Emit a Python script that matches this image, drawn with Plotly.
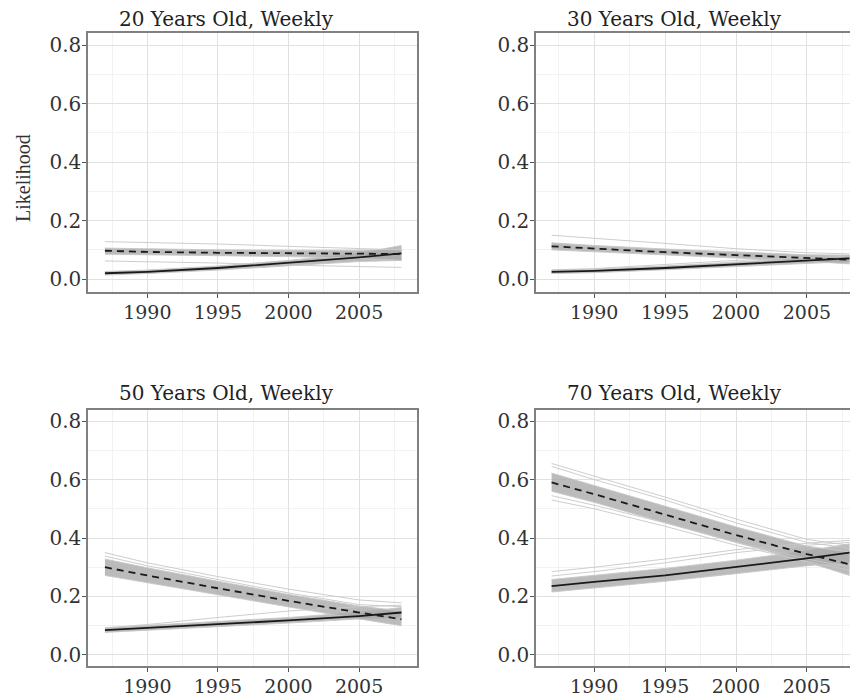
import plotly.graph_objects as go

# ---------------- data ----------------
years = [1987, 1990, 1995, 2000, 2005, 2008]

panel_titles = ["20 Years Old, Weekly", "30 Years Old, Weekly",
                "50 Years Old, Weekly", "70 Years Old, Weekly"]

# main (solid) and dashed estimate lines
solid_20 = [0.020, 0.025, 0.038, 0.055, 0.074, 0.088]
dashed_20 = [0.097, 0.093, 0.090, 0.088, 0.086, 0.086]
solid_30 = [0.025, 0.028, 0.038, 0.050, 0.063, 0.071]
dashed_30 = [0.112, 0.104, 0.092, 0.082, 0.072, 0.066]
solid_50 = [0.085, 0.092, 0.105, 0.118, 0.133, 0.145]
dashed_50 = [0.300, 0.272, 0.228, 0.185, 0.145, 0.122]
solid_70 = [0.235, 0.250, 0.272, 0.300, 0.330, 0.350]
dashed_70 = [0.590, 0.550, 0.480, 0.410, 0.345, 0.310]

# grey simulation envelopes (lower / upper)
solid_20_lo = [0.014, 0.019, 0.031, 0.046, 0.060, 0.064]
solid_20_hi = [0.026, 0.031, 0.045, 0.064, 0.088, 0.115]
dashed_20_lo = [0.085, 0.083, 0.080, 0.077, 0.071, 0.064]
dashed_20_hi = [0.106, 0.103, 0.100, 0.099, 0.099, 0.102]
solid_30_lo = [0.019, 0.022, 0.032, 0.043, 0.055, 0.060]
solid_30_hi = [0.031, 0.034, 0.045, 0.058, 0.071, 0.080]
dashed_30_lo = [0.100, 0.093, 0.082, 0.072, 0.061, 0.052]
dashed_30_hi = [0.124, 0.115, 0.103, 0.093, 0.083, 0.082]
solid_50_lo = [0.077, 0.084, 0.097, 0.109, 0.123, 0.130]
solid_50_hi = [0.093, 0.101, 0.114, 0.128, 0.146, 0.162]
dashed_50_lo = [0.272, 0.247, 0.204, 0.163, 0.123, 0.100]
dashed_50_hi = [0.328, 0.298, 0.252, 0.207, 0.167, 0.150]
solid_70_lo = [0.215, 0.229, 0.252, 0.278, 0.305, 0.318]
solid_70_hi = [0.258, 0.272, 0.296, 0.324, 0.356, 0.380]
dashed_70_lo = [0.560, 0.522, 0.452, 0.385, 0.318, 0.272]
dashed_70_hi = [0.622, 0.580, 0.510, 0.438, 0.372, 0.352]

# individual outlying simulation draws
outliers_20 = [[0.062, 0.060, 0.055, 0.048, 0.043, 0.040],
               [0.128, 0.125, 0.120, 0.112, 0.104, 0.100]]
outliers_30 = [[0.150, 0.140, 0.122, 0.104, 0.090, 0.086],
               [0.032, 0.036, 0.050, 0.064, 0.074, 0.078]]
outliers_50 = [[0.350, 0.315, 0.268, 0.225, 0.188, 0.178],
               [0.338, 0.305, 0.258, 0.212, 0.172, 0.165],
               [0.092, 0.104, 0.128, 0.150, 0.165, 0.170]]
outliers_70 = [[0.655, 0.612, 0.540, 0.465, 0.395, 0.375],
               [0.645, 0.600, 0.530, 0.452, 0.385, 0.365],
               [0.530, 0.500, 0.440, 0.375, 0.320, 0.290],
               [0.545, 0.512, 0.452, 0.385, 0.328, 0.300],
               [0.285, 0.300, 0.328, 0.360, 0.382, 0.392],
               [0.270, 0.285, 0.315, 0.350, 0.375, 0.385]]

y_ticks = [0.0, 0.2, 0.4, 0.6, 0.8]
y_tick_labels = ["0.0", "0.2", "0.4", "0.6", "0.8"]
x_ticks = [1990, 1995, 2000, 2005]
x_tick_labels = ["1990", "1995", "2000", "2005"]

panels = [
    (solid_20, dashed_20, solid_20_lo, solid_20_hi, dashed_20_lo, dashed_20_hi, outliers_20),
    (solid_30, dashed_30, solid_30_lo, solid_30_hi, dashed_30_lo, dashed_30_hi, outliers_30),
    (solid_50, dashed_50, solid_50_lo, solid_50_hi, dashed_50_lo, dashed_50_hi, outliers_50),
    (solid_70, dashed_70, solid_70_lo, solid_70_hi, dashed_70_lo, dashed_70_hi, outliers_70),
]

# ---------------- layout geometry ----------------
# page body has an 8px margin, so the figure is sized/positioned relative to (8, 8)
OFF = 8
W, H = 858 - OFF, 700 - OFF


def px(xp):
    return (xp - OFF) / W


def py(yp):
    return 1 - (yp - OFF) / H


x_domains = [(px(88), px(417)), (px(536), 1.0)]
y_domains = [(py(292), py(33)), (py(666), py(410))]
x_ranges = [[1985.8, 2009.1], [1985.9, 2008.6]]
y_ranges = [[-0.044, 0.841], [-0.038, 0.838]]

title_pos = [(px(226), py(19)), (px(674), py(19)),
             (px(226), py(393)), (px(674), py(393))]

SERIF = "DejaVu Serif"
fig = go.Figure()

for i, (s, d, slo, shi, dlo, dhi, outs) in enumerate(panels):
    n = i + 1
    xa = "x" if n == 1 else f"x{n}"
    ya = "y" if n == 1 else f"y{n}"
    band_col = "rgba(170,170,170,0.8)"
    edge_col = "rgba(200,200,200,0.9)"
    for lo, hi in [(slo, shi), (dlo, dhi)]:
        fig.add_trace(go.Scatter(x=years, y=lo, mode="lines", xaxis=xa, yaxis=ya,
                                 line=dict(color=edge_col, width=1), showlegend=False,
                                 hoverinfo="skip"))
        fig.add_trace(go.Scatter(x=years, y=hi, mode="lines", xaxis=xa, yaxis=ya,
                                 line=dict(color=edge_col, width=1), fill="tonexty",
                                 fillcolor=band_col, showlegend=False, hoverinfo="skip"))
    for o in outs:
        fig.add_trace(go.Scatter(x=years, y=o, mode="lines", xaxis=xa, yaxis=ya,
                                 line=dict(color="rgba(200,200,200,0.9)", width=1),
                                 showlegend=False, hoverinfo="skip"))
    fig.add_trace(go.Scatter(x=years, y=s, mode="lines", xaxis=xa, yaxis=ya,
                             line=dict(color="#1a1a1a", width=1.8), showlegend=False))
    fig.add_trace(go.Scatter(x=years, y=d, mode="lines", xaxis=xa, yaxis=ya,
                             line=dict(color="#1a1a1a", width=1.8, dash="7px,5px"),
                             showlegend=False))

    col = i % 2
    row = i // 2
    xkey = "xaxis" if n == 1 else f"xaxis{n}"
    ykey = "yaxis" if n == 1 else f"yaxis{n}"
    fig.layout[xkey] = dict(
        domain=list(x_domains[col]), range=x_ranges[col], anchor=ya,
        tickvals=x_ticks, ticktext=x_tick_labels, ticks="outside", ticklen=4,
        tickcolor="#555", tickwidth=1, ticklabelstandoff=-2,
        showline=True, linecolor="#808080", linewidth=1.5, mirror=True,
        showgrid=True, gridcolor="#e0e0e0", gridwidth=1, zeroline=False,
        minor=dict(tickvals=[1987.5, 1992.5, 1997.5, 2002.5, 2007.5],
                   showgrid=True, gridcolor="#f2f2f2", gridwidth=1, ticks=""),
        tickfont=dict(family=SERIF, size=19, color="#333"), automargin=False,
        fixedrange=True)
    fig.layout[ykey] = dict(
        domain=list(y_domains[row]), range=y_ranges[row], anchor=xa,
        tickvals=y_ticks, ticktext=y_tick_labels, ticks="outside", ticklen=4,
        tickcolor="#555", tickwidth=1, ticklabelstandoff=-3,
        showline=True, linecolor="#808080", linewidth=1.5, mirror=(col == 0),
        showgrid=True, gridcolor="#e0e0e0", gridwidth=1, zeroline=False,
        minor=dict(tickvals=[0.1, 0.3, 0.5, 0.7], showgrid=True,
                   gridcolor="#f2f2f2", gridwidth=1, ticks=""),
        tickfont=dict(family=SERIF, size=20, color="#333"), automargin=False,
        fixedrange=True)

annotations = []
for (tx, ty), t in zip(title_pos, panel_titles):
    annotations.append(dict(x=tx, y=ty, xref="paper", yref="paper", text=t,
                            showarrow=False, xanchor="center", yanchor="middle",
                            font=dict(family=SERIF, size=20, color="#222")))
annotations.append(dict(x=px(23), y=py(178), xref="paper", yref="paper",
                        text="Likelihood", textangle=-90, showarrow=False,
                        xanchor="center", yanchor="middle",
                        font=dict(family="Liberation Serif", size=20, color="#333")))

fig.update_layout(width=W, height=H, margin=dict(l=0, r=0, t=0, b=0),
                  paper_bgcolor="white", plot_bgcolor="white",
                  annotations=annotations, showlegend=False)

fig.write_html("out.html")
